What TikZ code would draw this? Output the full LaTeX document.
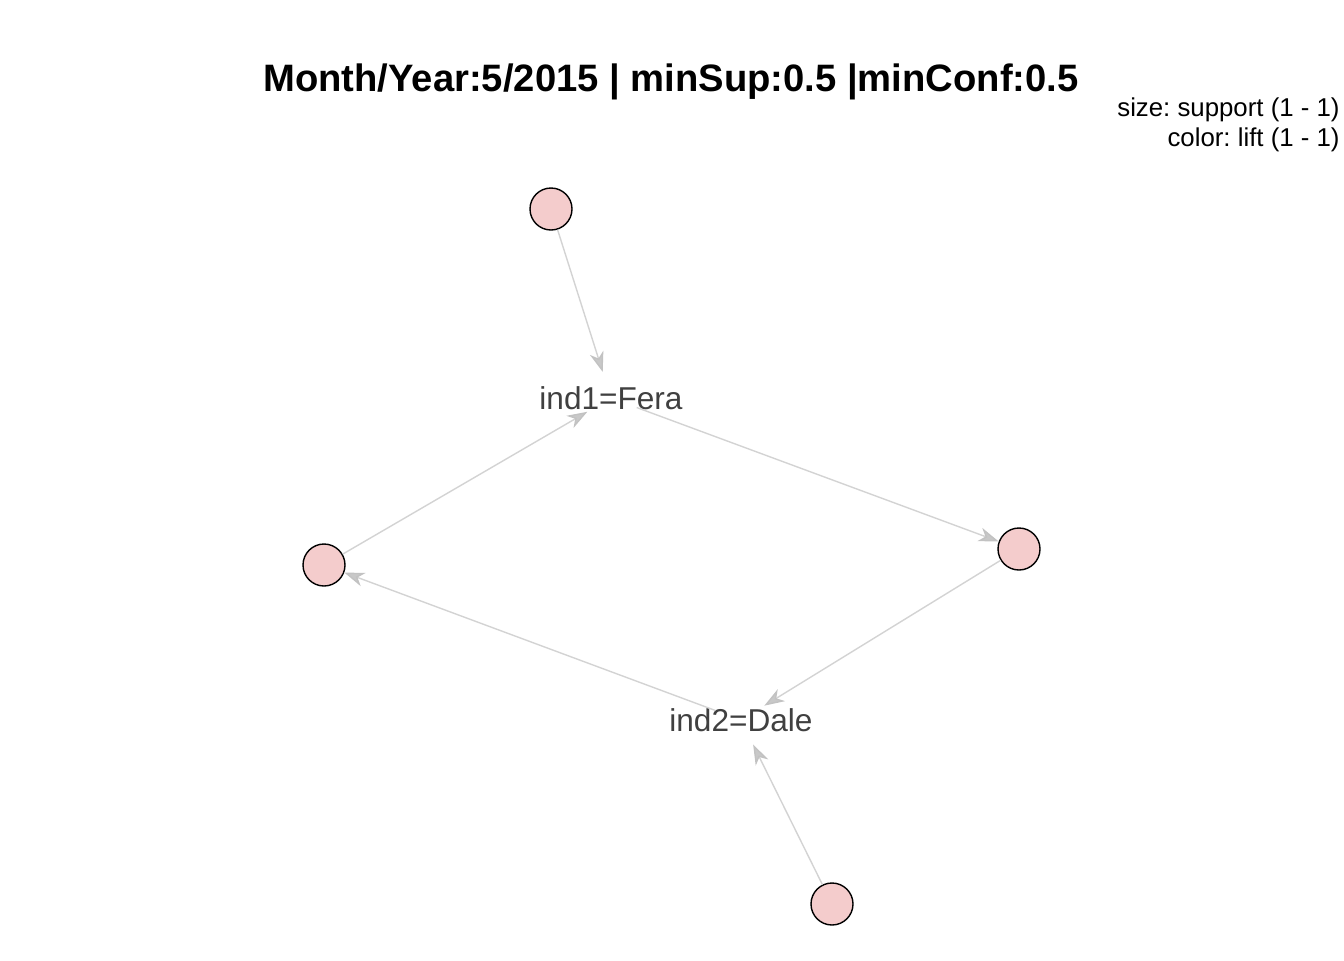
\documentclass[tikz,border=0pt]{standalone}
\usepackage{fontspec}
\setmainfont{Liberation Sans}
\usetikzlibrary{arrows.meta}
\definecolor{vertexpink}{RGB}{244,204,204}
\definecolor{edgegray}{RGB}{211,211,211}
\definecolor{labelgray}{RGB}{64,64,64}
\frenchspacing
\begin{document}
\begin{tikzpicture}[x=0.5pt,y=-0.5pt,
	vertex/.style={circle,draw=black,line width=0.7pt,fill=vertexpink,inner sep=0pt,minimum size=21pt},
	itemvertex/.style={circle,inner sep=0pt,minimum size=27pt},
	itemtext/.style={text=labelgray,font=\fontsize{15.8}{18}\selectfont},
	legendtext/.style={anchor=base east,inner sep=0pt,font=\fontsize{12.9}{15}\selectfont},
	rule/.style={draw=edgegray,line width=0.7pt,-{Stealth[length=10pt,width=7pt,inset=3pt,color=edgegray!92!black,fill=edgegray!95!black]}}]
	\useasboundingbox (0,0) rectangle (1344,960);
	% title and legend
	\node[anchor=base,font=\bfseries\fontsize{19.1}{23}\selectfont] (title) at (671,91) {Month/Year:5/2015 | minSup:0.5 |minConf:0.5};
	\node[legendtext] (legendsize) at (1340,116) {size: support (1 - 1)};
	\node[legendtext] (legendcolor) at (1340,146) {color: lift (1 - 1)};
	% items
	\node[itemvertex,label={[itemtext]center:ind1=Fera}] (fera) at (611,398) {};
	\node[itemvertex,label={[itemtext]center:ind2=Dale}] (dale) at (741,720) {};
	% rules
	\node[vertex] (rule1) at (551,209) {};
	\node[vertex] (rule2) at (1019,549) {};
	\node[vertex] (rule3) at (324,565) {};
	\node[vertex] (rule4) at (832,904) {};
	% edges
	\draw[rule] (rule1) -- (fera);
	\draw[rule] (fera) -- (rule2);
	\draw[rule] (rule2) -- (dale);
	\draw[rule] (dale) -- (rule3);
	\draw[rule] (rule3) -- (fera);
	\draw[rule] (rule4) -- (dale);
\end{tikzpicture}
\end{document}
